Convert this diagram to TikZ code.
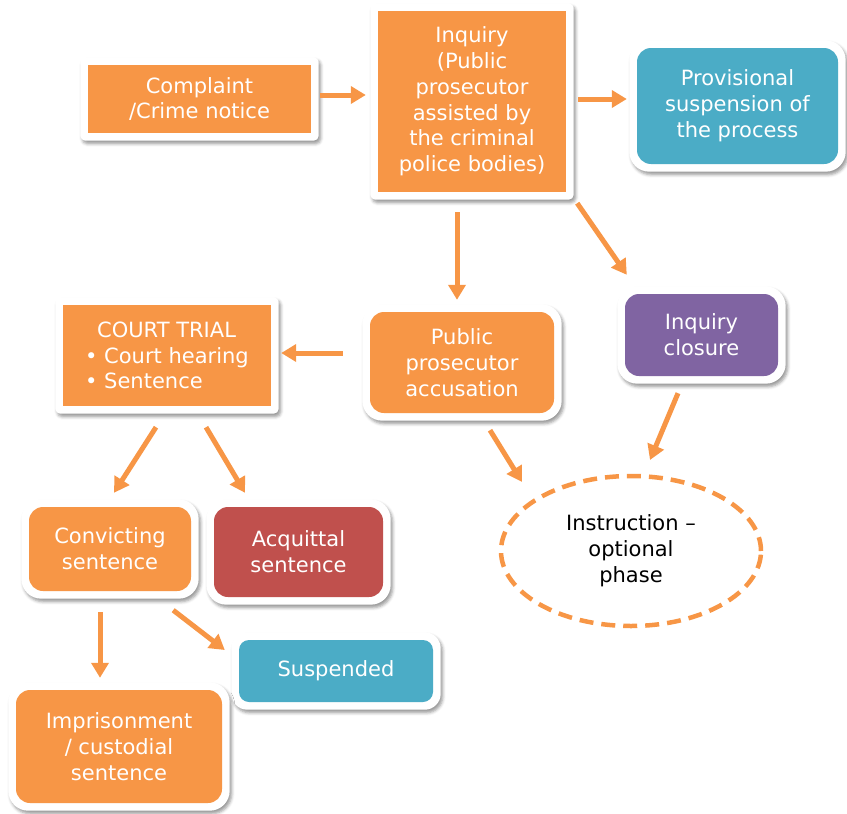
\documentclass[tikz,border=0pt]{standalone}
\usepackage{fontspec}
\setmainfont{DejaVu Sans}
\usetikzlibrary{arrows.meta,shapes.geometric,fit,backgrounds,shadows.blur}
\definecolor{orng}{HTML}{F79646}
\definecolor{blu}{HTML}{4BACC6}
\definecolor{purp}{HTML}{8064A2}
\definecolor{redd}{HTML}{C0504D}
\begin{document}
\begin{tikzpicture}[x=1pt,y=-1pt,
  txt/.style={font=\fontsize{21}{25.8}\selectfont, align=center},
  sqbox/.style={txt, fill=#1, text=white, inner sep=0pt, draw=none},
  rbox/.style={sqbox=#1, rounded corners=14pt},
  frame/.style={fill=white, draw=none, inner sep=7.5pt, rounded corners=#1,
    blur shadow={shadow xshift=2pt, shadow yshift=-3pt, shadow blur radius=3pt, shadow opacity=40}},
  arr/.style={draw=orng, line width=5pt, -{Triangle[width=17pt,length=15pt]}}
]
\useasboundingbox (0,0) rectangle (847,814);

% boxes
\node[sqbox=orng, minimum width=223pt, minimum height=68pt] (comp) at (199.5,99) {Complaint\\/Crime notice};
\node[sqbox=orng, minimum width=188pt, minimum height=181pt] (inq) at (472,101.5) {Inquiry\\(Public\\prosecutor\\assisted by\\the criminal\\police bodies)};
\node[rbox=blu, minimum width=201pt, minimum height=116pt] (prov) at (737.5,106) {Provisional\\suspension of\\the process};
\node[sqbox=orng, minimum width=208pt, minimum height=101pt, align=left] (court) at (167,355.5) {\hspace*{12pt}COURT TRIAL\\• Court hearing\\• Sentence};
\node[rbox=orng, minimum width=184pt, minimum height=101pt] (acc) at (462,362.5) {Public\\prosecutor\\accusation};
\node[rbox=purp, minimum width=153pt, minimum height=82pt] (clos) at (701.5,335) {Inquiry\\closure};
\node[txt, ellipse, draw=orng, line width=4.5pt, dash pattern=on 14pt off 8pt,
  minimum width=260pt, minimum height=150pt, inner sep=0pt, text=black] (instr) at (631,551) {Instruction –\\optional\\phase};
\node[rbox=orng, minimum width=162pt, minimum height=84pt] (conv) at (110,549) {Convicting\\sentence};
\node[rbox=redd, minimum width=169pt, minimum height=90pt] (acq) at (298.5,552) {Acquittal\\sentence};
\node[rbox=blu, minimum width=194pt, minimum height=62pt, rounded corners=10pt] (susp) at (336,671) {Suspended};
\node[rbox=orng, minimum width=206pt, minimum height=113pt] (impr) at (119,746.5) {Imprisonment\\/ custodial\\sentence};

% white frames with shadows
\begin{scope}[on background layer]
\node[frame=5pt, fit=(comp)] (compF) {};
\node[frame=5pt, fit=(inq)] (inqF) {};
\node[frame=20pt, fit=(prov)] (provF) {};
\node[frame=5pt, fit=(court)] (courtF) {};
\node[frame=20pt, fit=(acc)] (accF) {};
\node[frame=20pt, fit=(clos)] (closF) {};
\node[frame=20pt, fit=(conv)] (convF) {};
\node[frame=20pt, fit=(acq)] (acqF) {};
\node[frame=16pt, fit=(susp)] (suspF) {};
\node[frame=20pt, fit=(impr)] (imprF) {};
\end{scope}

% connectors
\draw[arr] ([shift={(9,-4)}]comp.east) -- ([shift={(-12,-6.5)}]inq.west);
\draw[arr] ([shift={(12,-2.5)}]inq.east) -- ([shift={(-10,-7)}]prov.west);
\draw[arr] ([shift={(-15,20)}]inq.south) -- ([shift={(-5,-12)}]acc.north);
\draw[arr] ([shift={(11,11)}]inq.south east) -- ([shift={(2,-19)}]clos.north west);
\draw[arr] ([shift={(-27,-9.5)}]acc.west) -- ([shift={(10,-2.5)}]court.east);
\draw[arr] ([shift={(28,17)}]acc.south) -- ([shift={(-109,-69)}]instr.center);
\draw[arr] ([shift={(-23.5,17)}]clos.south) -- ([shift={(19,-91)}]instr.center);
\draw[arr] ([shift={(-11,21)}]court.south) -- ([shift={(4,-14)}]conv.north);
\draw[arr] ([shift={(39,21)}]court.south) -- ([shift={(-53.5,-14)}]acq.north);
\draw[arr] ([shift={(-10,21)}]conv.south) -- ([shift={(-19,-12)}]impr.north);
\draw[arr] ([shift={(-18,19)}]conv.south east) -- ([shift={(-14,-21)}]susp.west);
\end{tikzpicture}
\end{document}
